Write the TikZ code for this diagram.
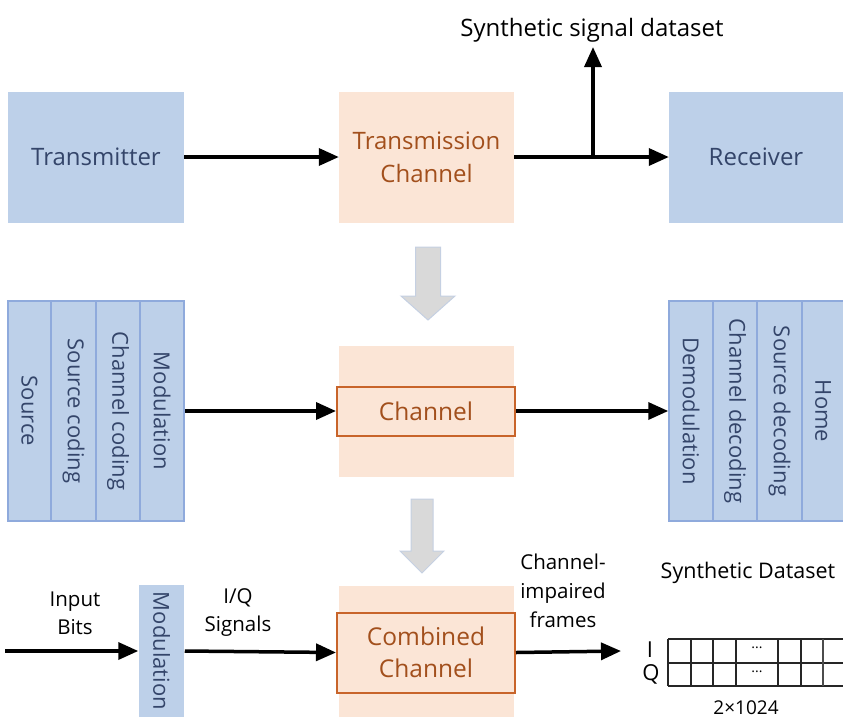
\documentclass[tikz,border=0pt]{standalone}
\usepackage{fontspec}
\setmainfont{Open Sans}
\usetikzlibrary{arrows.meta}
\definecolor{bluefill}{HTML}{BDD0E9}
\definecolor{blueline}{HTML}{8FAADC}
\definecolor{bluetext}{HTML}{34456A}
\definecolor{peach}{HTML}{FBE5D6}
\definecolor{orangeline}{HTML}{C8642A}
\definecolor{orangetext}{HTML}{A24F1C}
\definecolor{grayfill}{HTML}{D9D9D9}
\definecolor{grayline}{HTML}{C5D0E2}
\tikzset{
  bigbox/.style={rectangle, fill=bluefill, draw=none, minimum width=176pt, minimum height=131pt,
    text=bluetext, font=\fontsize{24}{28}\selectfont, inner sep=0pt},
  peachbox/.style={rectangle, fill=peach, draw=none, minimum width=175pt, minimum height=131pt,
    text=orangetext, font=\fontsize{24}{33}\selectfont, align=center, inner sep=0pt},
  innerbox/.style={rectangle, fill=peach, draw=orangeline, line width=2pt, minimum width=178pt,
    text=orangetext, font=\fontsize{24.5}{32}\selectfont, align=center, inner sep=0pt},
  colbox/.style={rectangle, rotate=-90, fill=bluefill, draw=blueline, line width=1.5pt,
    minimum width=220pt, text=bluetext, font=\fontsize{22}{24}\selectfont, inner sep=0pt},
  arr/.style={line width=3.5pt, -{Triangle[length=20pt,width=17pt]}},
  lbl/.style={font=\fontsize{20.5}{28}\selectfont, align=center, inner sep=0pt, text=black},
  blockarrow/.style={fill=grayfill, draw=grayline, line width=1pt},
  gridline/.style={line width=2pt, draw=black!85},
}
\begin{document}
\begin{tikzpicture}[x=1pt,y=-1pt]
\useasboundingbox (0,0) rectangle (843,724);
% Row 1
\node[bigbox] (tx) at (96,157) {Transmitter};
\node[peachbox] (tc) at (426.5,157) {Transmission\\Channel};
\node[bigbox, minimum width=174pt] (rx) at (756,157) {Receiver};
\node[lbl, font=\fontsize{24}{28}\selectfont] (ssd) at (592,30) {Synthetic signal dataset};
\coordinate (br) at (593,157);
\coordinate (brtop) at (593,47);
\draw[arr] (tx.east) -- (tc.west);
\draw[arr] (tc.east) -- (rx.west);
\draw[arr] (br) -- (brtop);
% block arrows
\path[blockarrow] (415.5,247) -- (440.5,247) -- (440.5,296) -- (455,296) -- (428,320) -- (401,296) -- (415.5,296) -- cycle;
\path[blockarrow] (411,499) -- (433,499) -- (433,551) -- (444,551) -- (422,573) -- (400,551) -- (411,551) -- cycle;
% Row 2
\node[colbox, minimum height=43pt] (l1) at (29.5,411) {Source};
\node[colbox, minimum height=45pt] (l2) at (73.5,411) {Source coding};
\node[colbox, minimum height=44pt] (l3) at (118,411) {Channel coding};
\node[colbox, minimum height=44pt] (l4) at (162,411) {Modulation};
\node[peachbox] (chbg) at (426.5,411.5) {};
\node[innerbox, minimum height=49pt] (ch) at (426,411) {Channel};
\node[colbox, minimum height=44pt] (r1) at (691,411) {Demodulation};
\node[colbox, minimum height=44pt] (r2) at (735,411) {Channel decoding};
\node[colbox, minimum height=45pt] (r3) at (779.5,411) {Source decoding};
\node[colbox, minimum height=42pt] (r4) at (823,411) {Home};
\draw[arr] (l4.north) -- (ch.west);
\draw[arr] (ch.east) -- (r1.south);
% Row 3
\node[colbox, draw=none, minimum width=132pt, minimum height=45pt] (mod) at (161.5,651) {Modulation};
\node[peachbox] (cbbg) at (426.5,651.5) {};
\node[innerbox, minimum height=80pt] (cb) at (426,652.5) {Combined\\Channel};
\coordinate (inb) at (5,651);
\coordinate (gin) at (621,651);
\draw[arr] (inb) -- (mod.south);
\draw[arr] (mod.north) -- (cb.west);
\draw[arr] (cb.east) -- (gin);
\node[lbl] (inlbl) at (75,613) {Input\\Bits};
\node[lbl] (iqlbl) at (238,613) {I/Q\\Signals};
\node[lbl, font=\fontsize{20.5}{29}\selectfont] (cilbl) at (563,591) {Channel-\\impaired\\frames};
\node[lbl, font=\fontsize{21.5}{24}\selectfont] (sdlbl) at (748,573) {Synthetic Dataset};
% grid
\draw[gridline] (668,639) -- (843,639);
\draw[gridline] (668,663) -- (843,663);
\draw[gridline] (668,686) -- (843,686);
\foreach \gx in {668,691,713,736,778,801} {\draw[gridline] (\gx,639) -- (\gx,686);}
\draw[line width=1.2pt, draw=black!70] (823,639) -- (823,686);
\node[lbl, font=\fontsize{14}{16}\selectfont] (d1) at (757,648) {...};
\node[lbl, font=\fontsize{14}{16}\selectfont] (d2) at (757,672) {...};
\node[lbl, font=\fontsize{22}{24}\selectfont] (ilbl) at (650,650) {I};
\node[lbl, font=\fontsize{22}{24}\selectfont] (qlbl) at (651,674) {Q};
\node[lbl, font=\fontsize{19}{22}\selectfont] (dim) at (746,708) {2×1024};
\end{tikzpicture}
\end{document}
